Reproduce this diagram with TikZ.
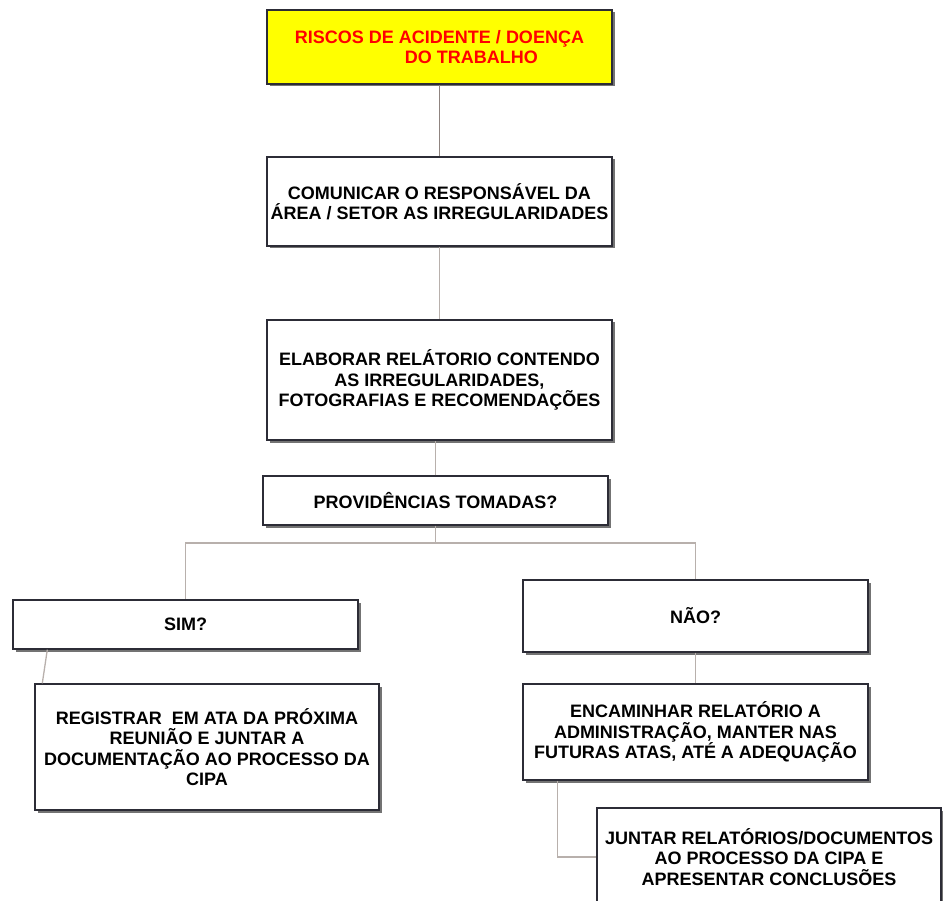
\documentclass[tikz,border=0pt]{standalone}
\usepackage{fontspec}
\setmainfont{Liberation Sans}
\usetikzlibrary{shadows}
\definecolor{boxline}{HTML}{2C2C36}
\definecolor{linkA}{HTML}{8F8480}
\definecolor{linkB}{HTML}{B8B0AC}
\definecolor{boxyellow}{HTML}{FFFF00}
\definecolor{redtext}{HTML}{FF0000}
\tikzset{
  flowbox/.style={draw=boxline, line width=1.4pt, fill=white, rectangle, inner sep=0pt,
    align=center, font=\fontsize{18}{20.5}\selectfont\bfseries,
    drop shadow={shadow xshift=2.5pt, shadow yshift=-2.5pt, fill=black, opacity=0.55}},
  link/.style={draw=linkB, line width=1.3pt},
  linkdark/.style={draw=linkA, line width=1.3pt}
}
\begin{document}
\begin{tikzpicture}[x=1pt,y=-1pt]
\useasboundingbox (0,0) rectangle (943,901);
\node[flowbox, fill=boxyellow, text=redtext, align=left, minimum width=345pt, minimum height=74pt] (n1) at (439.5,47)
  {RISCOS DE ACIDENTE / DOENÇA\\\hspace*{110pt}DO TRABALHO};
\node[flowbox, minimum width=345pt, minimum height=89pt] (n2) at (439.5,201.5)
  {COMUNICAR O RESPONSÁVEL DA\\ÁREA / SETOR AS IRREGULARIDADES};
\node[flowbox, minimum width=345pt, minimum height=120pt] (n3) at (439.5,380)
  {ELABORAR RELÁTORIO CONTENDO\\AS IRREGULARIDADES,\\FOTOGRAFIAS E RECOMENDAÇÕES};
\node[flowbox, minimum width=345pt, minimum height=49pt] (n4) at (435.5,500.5)
  {PROVIDÊNCIAS TOMADAS?};
\node[flowbox, minimum width=345pt, minimum height=49pt] (n5) at (185.5,624.5)
  {SIM?};
\node[flowbox, minimum width=344pt, minimum height=126pt] (n6) at (207,747)
  {REGISTRAR \ EM ATA DA PRÓXIMA\\REUNIÃO E JUNTAR A\\DOCUMENTAÇÃO AO PROCESSO DA\\CIPA};
\node[flowbox, minimum width=345pt, minimum height=72pt] (n7) at (695.5,616)
  {NÃO?};
\node[flowbox, minimum width=345pt, minimum height=96pt] (n8) at (695.5,732)
  {ENCAMINHAR RELATÓRIO A\\ADMINISTRAÇÃO, MANTER NAS\\FUTURAS ATAS, ATÉ A ADEQUAÇÃO};
\node[flowbox, minimum width=344pt, minimum height=98pt] (n9) at (769,857)
  {JUNTAR RELATÓRIOS/DOCUMENTOS\\AO PROCESSO DA CIPA E\\APRESENTAR CONCLUSÕES};
\coordinate (split) at (435.5,543);
\draw[linkdark] (n1.south) -- (n2.north);
\draw[link] (n2.south) -- (n3.north);
\draw[link] (n4.north) -- (n4.north |- n3.south);
\draw[link] (n4.south) -- (split);
\draw[link] (split) -| (n5.north);
\draw[link] (split) -| (n7.north);
\draw[link] ([xshift=35pt]n5.south west) -- ([xshift=8pt]n6.north west);
\draw[link] (n7.south) -- (n8.north);
\draw[link] ([xshift=35pt]n8.south west) |- (n9.west);
\end{tikzpicture}
\end{document}
